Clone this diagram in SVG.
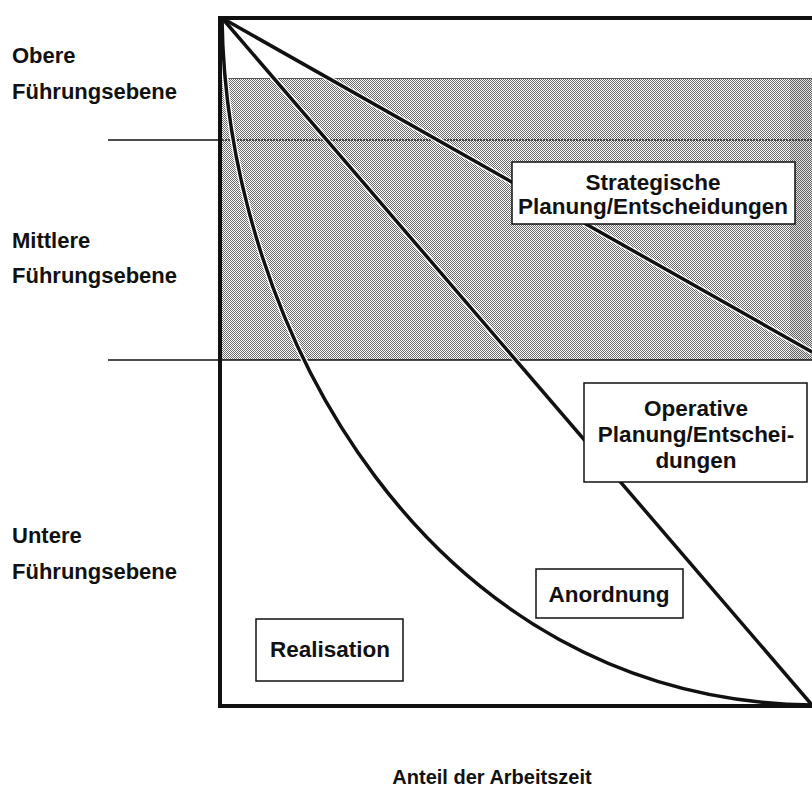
<svg xmlns="http://www.w3.org/2000/svg" width="812" height="787" viewBox="0 0 812 787">
<defs>
<pattern id="dots" width="2" height="2" patternUnits="userSpaceOnUse">
<rect width="2" height="2" fill="#ffffff"/>
<rect x="0" y="0" width="1" height="1" fill="#6a6a6a"/>
<rect x="1" y="1" width="1" height="1" fill="#6a6a6a"/>
</pattern>
<style>
.lbl{font-family:"Liberation Sans",Arial,sans-serif;font-weight:bold;font-size:22px;fill:#111}
.box{fill:#ffffff;stroke:#111;stroke-width:1.5}
.bt{font-family:"Liberation Sans",Arial,sans-serif;font-weight:bold;font-size:22.5px;fill:#111;text-anchor:middle}
.line{fill:none;stroke:#111;stroke-width:3.5}
.halo{fill:none;stroke:#ffffff;stroke-width:6}
.lev{stroke:#111;stroke-width:1.5}
</style>
</defs>
<rect width="812" height="787" fill="#ffffff"/>
<g id="band">
<rect x="222" y="78" width="590" height="282" fill="url(#dots)"/>
<rect x="790" y="78" width="22" height="282" fill="#000" opacity="0.1"/>
<line x1="222" y1="78.5" x2="812" y2="78.5" stroke="#555" stroke-width="1"/>
</g>
<g id="levels">
<line class="lev" x1="108" y1="140" x2="222" y2="140"/>
<line x1="222" y1="140" x2="812" y2="140" stroke="#222" stroke-width="1.5" stroke-dasharray="2,1"/>
<line class="lev" x1="108" y1="360" x2="812" y2="360"/>
</g>
<g id="connectors">
<path class="halo" d="M222,18 L812,352"/>
<path class="halo" d="M222,18 L812,705"/>
<path class="halo" d="M222,18 C226,330 430,700 812,705"/>
<path class="line" d="M222,18 L812,352"/>
<path class="line" d="M222,18 L812,705"/>
<path class="line" d="M222,18 C226,330 430,700 812,705"/>
</g>
<g id="frame">
<path d="M812,18 L220,18 L220,706 L812,706" fill="none" stroke="#111" stroke-width="4"/>
</g>
<g id="label-obere">
<text class="lbl" x="12" y="63">Obere</text>
<text class="lbl" x="12" y="99">Führungsebene</text>
</g>
<g id="label-mittlere">
<text class="lbl" x="12" y="248">Mittlere</text>
<text class="lbl" x="12" y="283">Führungsebene</text>
</g>
<g id="label-untere">
<text class="lbl" x="12" y="543">Untere</text>
<text class="lbl" x="12" y="579">Führungsebene</text>
</g>
<g id="node-strategisch">
<rect class="box" x="512" y="162" width="283" height="62"/>
<text class="bt" x="653" y="190">Strategische</text>
<text class="bt" x="653" y="214">Planung/Entscheidungen</text>
</g>
<g id="node-operativ">
<rect class="box" x="584" y="383" width="223" height="99"/>
<text class="bt" x="696" y="416">Operative</text>
<text class="bt" x="696" y="442">Planung/Entschei-</text>
<text class="bt" x="696" y="468">dungen</text>
</g>
<g id="node-anordnung">
<rect class="box" x="536" y="569" width="147" height="49"/>
<text class="bt" x="609" y="602">Anordnung</text>
</g>
<g id="node-realisation">
<rect class="box" x="256" y="619" width="147" height="62"/>
<text class="bt" x="330" y="657">Realisation</text>
</g>
<g id="axis-label">
<text class="bt" x="492" y="784" style="font-size:20px">Anteil der Arbeitszeit</text>
</g>
</svg>
